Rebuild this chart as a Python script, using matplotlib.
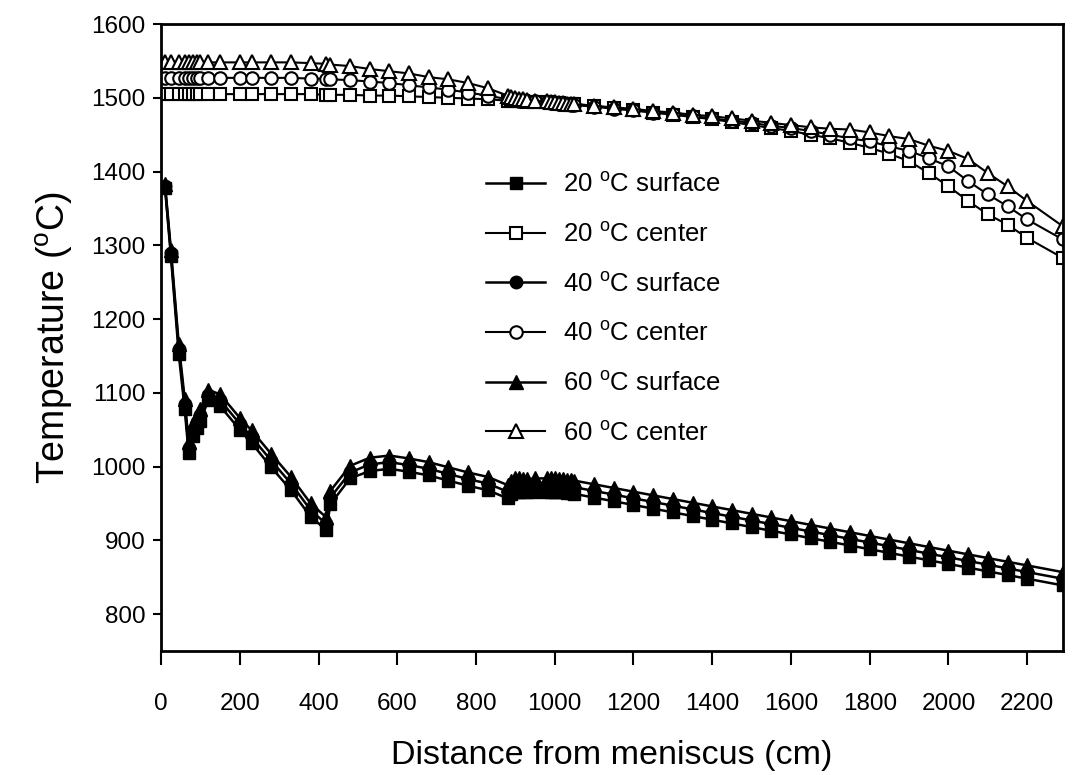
import matplotlib
matplotlib.use("Agg")
import matplotlib.pyplot as plt

plt.rcParams['font.family'] = ['Liberation Sans', 'DejaVu Sans']
plt.rcParams['mathtext.fontset'] = 'custom'
plt.rcParams['mathtext.rm'] = 'Liberation Sans'

# distance from meniscus (cm), shared by all six series
dist = [10, 25, 45, 60, 70, 80, 90, 100,
        120, 150, 200, 230, 280, 330, 380, 420, 430,
        480, 530, 580, 630, 680, 730, 780, 830,
        880, 890, 900, 910, 920, 930, 950,
        980, 990, 1000, 1010, 1020, 1030, 1040, 1050,
        1100, 1150, 1200, 1250, 1300, 1350, 1400, 1450, 1500, 1550, 1600, 1650,
        1700, 1750, 1800, 1850, 1900, 1950, 2000, 2050, 2100, 2150, 2200, 2290]

# surface temperatures
s20 = [1378, 1285, 1152, 1078, 1018, 1042, 1052, 1062,
       1090, 1082, 1050, 1032, 999, 968, 932, 914, 949,
       984, 994, 997, 993, 988, 981, 974, 968,
       957, 963, 966, 966, 965, 965, 966,
       966, 966, 966, 965, 965, 964, 964, 963,
       958, 953, 948, 943, 938, 933, 928, 923, 918, 913, 908, 903,
       898, 893, 888, 883, 878, 873, 868, 863, 858, 853, 848, 839]
s40 = [1380, 1290, 1160, 1085, 1025, 1050, 1060, 1070,
       1097, 1090, 1058, 1040, 1008, 977, 941, 922, 958,
       992, 1003, 1006, 1002, 997, 990, 983, 977,
       966, 972, 975, 975, 974, 974, 975,
       975, 975, 975, 974, 974, 973, 973, 972,
       967, 962, 957, 952, 947, 942, 937, 932, 927, 922, 917, 912,
       907, 902, 897, 892, 887, 882, 877, 872, 867, 862, 857, 848]
s60 = [1383, 1294, 1166, 1092, 1033, 1058, 1068, 1078,
       1104, 1098, 1066, 1049, 1017, 986, 950, 931, 967,
       1001, 1012, 1015, 1011, 1006, 999, 992, 986,
       975, 981, 984, 984, 983, 983, 984,
       984, 984, 984, 983, 983, 982, 982, 981,
       976, 971, 966, 961, 956, 951, 946, 941, 936, 931, 926, 921,
       916, 911, 906, 901, 896, 891, 886, 881, 876, 871, 866, 857]

# center temperatures
c20 = [1505, 1505, 1505, 1505, 1505, 1505, 1505, 1505,
       1505, 1505, 1505, 1505, 1505, 1505, 1505, 1504, 1504,
       1504, 1503, 1503, 1502, 1501, 1500, 1499, 1498,
       1496, 1496, 1495, 1495, 1495, 1494, 1494,
       1494, 1493, 1493, 1493, 1492, 1492, 1492, 1492,
       1489, 1486, 1483, 1480, 1477, 1474, 1471, 1467, 1463, 1459, 1455, 1450,
       1445, 1439, 1432, 1424, 1414, 1398, 1380, 1360, 1342, 1328, 1310, 1283]
c40 = [1527, 1527, 1527, 1527, 1527, 1527, 1527, 1527,
       1527, 1527, 1527, 1527, 1527, 1527, 1526, 1526, 1525,
       1524, 1522, 1520, 1517, 1514, 1511, 1507, 1503,
       1498, 1497, 1497, 1496, 1496, 1495, 1495,
       1494, 1493, 1493, 1492, 1492, 1491, 1490, 1490,
       1488, 1485, 1483, 1480, 1478, 1475, 1472, 1469, 1466, 1462, 1459, 1455,
       1450, 1445, 1441, 1434, 1428, 1418, 1407, 1387, 1369, 1353, 1335, 1308]
c60 = [1548, 1548, 1548, 1548, 1548, 1548, 1548, 1548,
       1548, 1548, 1548, 1548, 1548, 1548, 1547, 1546, 1545,
       1543, 1539, 1536, 1533, 1528, 1525, 1520, 1513,
       1503, 1501, 1500, 1499, 1498, 1497, 1496,
       1495, 1494, 1494, 1493, 1493, 1492, 1491, 1491,
       1489, 1487, 1485, 1482, 1480, 1477, 1475, 1472, 1469, 1466, 1463, 1460,
       1458, 1457, 1453, 1448, 1444, 1435, 1428, 1417, 1398, 1380, 1360, 1326]

xticks = [0, 200, 400, 600, 800, 1000, 1200, 1400, 1600, 1800, 2000, 2200]
yticks = [800, 900, 1000, 1100, 1200, 1300, 1400, 1500, 1600]

fig = plt.figure(figsize=(10.81, 7.75), dpi=100)
ax = fig.add_axes([0.149, 0.16, 0.834, 0.809])

ms = 9
ax.plot(dist, s20, '-s', color='black', lw=1.8, ms=ms, mfc='black',
        label=r'20 $^{\mathrm{o}}$C surface')
ax.plot(dist, c20, '-s', color='black', lw=1.5, ms=ms, mfc='white', mew=1.5,
        label=r'20 $^{\mathrm{o}}$C center')
ax.plot(dist, s40, '-o', color='black', lw=1.8, ms=ms, mfc='black',
        label=r'40 $^{\mathrm{o}}$C surface')
ax.plot(dist, c40, '-o', color='black', lw=1.5, ms=ms, mfc='white', mew=1.5,
        label=r'40 $^{\mathrm{o}}$C center')
ax.plot(dist, s60, '-^', color='black', lw=1.8, ms=ms + 1, mfc='black',
        label=r'60 $^{\mathrm{o}}$C surface')
ax.plot(dist, c60, '-^', color='black', lw=1.5, ms=ms + 1, mfc='white', mew=1.5,
        label=r'60 $^{\mathrm{o}}$C center')

ax.set_xlim(0, 2290)
ax.set_ylim(750, 1600)
ax.set_xticks(xticks)
ax.set_yticks(yticks)
ax.tick_params(axis='x', direction='out', length=10, width=1.5, pad=20, labelsize=17.5)
ax.tick_params(axis='y', direction='out', length=6, width=1.5, pad=5, labelsize=17.5)
for sp in ax.spines.values():
    sp.set_linewidth(2)

ax.set_xlabel('Distance from meniscus (cm)', fontsize=24.5, labelpad=18)
ax.set_ylabel(r'Temperature ($^{\mathrm{o}}$C)', fontsize=27, labelpad=12)

ax.legend(loc='upper left', bbox_to_anchor=(0.335, 0.8), frameon=False,
          fontsize=18.5, handlelength=2.3, labelspacing=0.97, handletextpad=0.7)

fig.savefig('out.png', dpi=100)
